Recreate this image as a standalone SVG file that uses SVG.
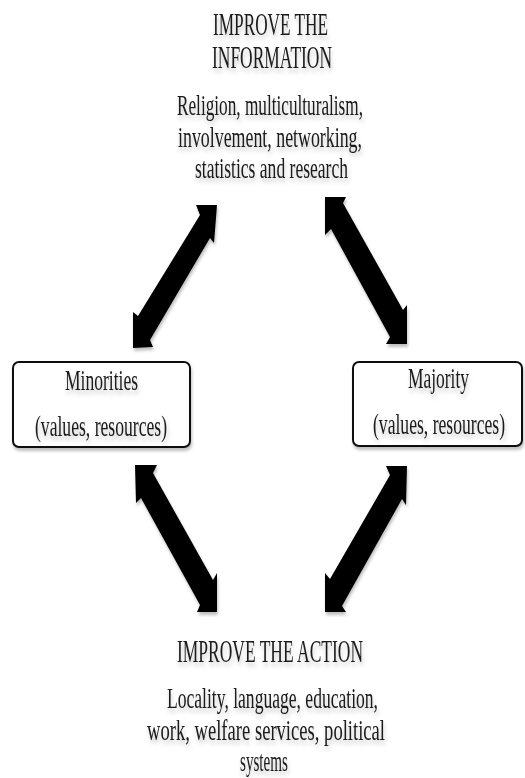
<svg xmlns="http://www.w3.org/2000/svg" width="525" height="778" viewBox="0 0 525 778">
<defs>
<filter id="sh" x="-20%" y="-20%" width="140%" height="150%">
<feDropShadow dx="1" dy="3" stdDeviation="1.8" flood-color="#000" flood-opacity="0.25"/>
</filter>
<filter id="tsh" x="-10%" y="-30%" width="120%" height="180%">
<feDropShadow dx="1" dy="4" stdDeviation="2" flood-color="#000" flood-opacity="0.22"/>
</filter>
</defs>
<style>
text { font-family: "Liberation Serif", "Times New Roman", serif; font-size: 30px; fill: #1a1a1a; }
.h { font-size: 31px; }
.t { filter: url(#tsh); }
.box { fill: #fff; stroke: #111; stroke-width: 2; filter: url(#sh); }
.arr { fill: #000; filter: url(#sh); }
</style>
<rect width="525" height="778" fill="#fff"/>

<g id="improve-information" class="t">
<text class="h" transform="translate(213,35) scale(0.6,1)" x="0" textLength="191.7" lengthAdjust="spacingAndGlyphs">IMPROVE THE</text>
<text class="h" transform="translate(212,68) scale(0.6,1)" x="0" textLength="200" lengthAdjust="spacingAndGlyphs">INFORMATION</text>
<text transform="translate(177,115) scale(0.6,1)" x="0" textLength="310" lengthAdjust="spacingAndGlyphs">Religion, multiculturalism,</text>
<text transform="translate(178,147) scale(0.6,1)" x="0" textLength="306.7" lengthAdjust="spacingAndGlyphs">involvement, networking,</text>
<text transform="translate(195,178) scale(0.6,1)" x="0" textLength="255" lengthAdjust="spacingAndGlyphs">statistics and research</text>
</g>

<g id="minorities">
<rect class="box" x="13" y="362" width="177" height="85" rx="6"/>
<g class="t">
<text transform="translate(65,390) scale(0.6,1)" x="0" textLength="121.7" lengthAdjust="spacingAndGlyphs">Minorities</text>
<text transform="translate(35,436) scale(0.6,1)" x="0" textLength="220" lengthAdjust="spacingAndGlyphs">(values, resources)</text>
</g>
</g>

<g id="majority">
<rect class="box" x="353" y="362" width="169" height="84" rx="6"/>
<g class="t">
<text transform="translate(408,388) scale(0.6,1)" x="0" textLength="101.7" lengthAdjust="spacingAndGlyphs">Majority</text>
<text transform="translate(373,434) scale(0.6,1)" x="0" textLength="220" lengthAdjust="spacingAndGlyphs">(values, resources)</text>
</g>
</g>

<g id="improve-action" class="t">
<text class="h" transform="translate(177,662) scale(0.6,1)" x="0" textLength="310" lengthAdjust="spacingAndGlyphs">IMPROVE THE ACTION</text>
<text transform="translate(167,708) scale(0.6,1)" x="0" textLength="351.7" lengthAdjust="spacingAndGlyphs">Locality, language, education,</text>
<text transform="translate(147,740) scale(0.6,1)" x="0" textLength="396.7" lengthAdjust="spacingAndGlyphs">work, welfare services, political</text>
<text transform="translate(240,771) scale(0.6,1)" x="0" textLength="80" lengthAdjust="spacingAndGlyphs">systems</text>
</g>

<g id="connectors">
<polygon class="arr" points="217,205 214,243 210,238 150,340 153,347 133,348 133,312 138,316 200,215 196,205"/>
<polygon class="arr" points="325,197 346,197 343,203 403,310 407,305 407,344 386,344 390,337 331,229 325,235"/>
<polygon class="arr" points="135,465 157,465 153,473 213,580 217,573 217,612 197,612 200,605 141,498 136,503"/>
<polygon class="arr" points="407,466 406,505 402,499 342,606 346,612 325,612 325,573 330,579 390,475 386,466"/>
</g>
</svg>
